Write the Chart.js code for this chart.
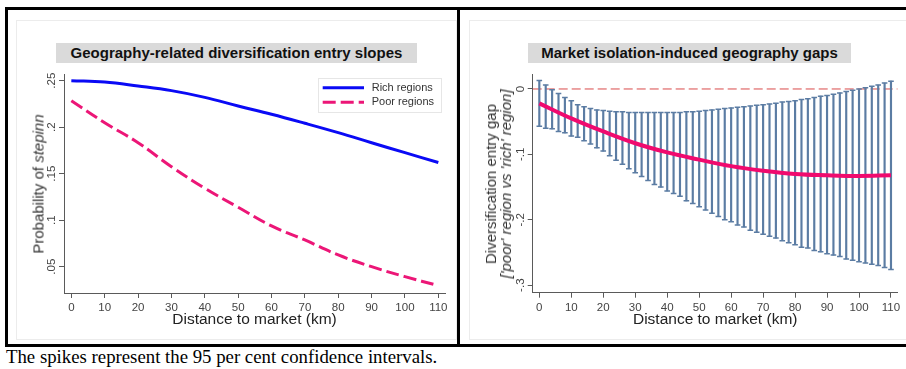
<!DOCTYPE html>
<html>
<head>
<meta charset="utf-8">
<script src="https://cdn.jsdelivr.net/npm/chart.js@4.4.1/dist/chart.umd.min.js"></script>
<style>
  body { margin: 0; background: #fff; width: 906px; height: 369px; overflow: hidden; position: relative; }
  .bar { position: absolute; background: #000; }
  .panel { position: absolute; box-sizing: border-box; border: 1px solid #ececec; background: #fff; }
  canvas { position: absolute; }
  .title { position: absolute; background: #dadada; font: bold 15px 'Liberation Sans', Arial, sans-serif;
           color: #111; text-align: center; line-height: 20px; height: 20px; white-space: nowrap; }
  .ytitle { position: absolute; transform: translate(-50%, -50%) rotate(-90deg); white-space: nowrap;
            font: 15px 'Liberation Sans', Arial, sans-serif; color: #333; text-align: center; line-height: 15px; }
  .caption { position: absolute; left: 6px; top: 348px; font: 18.8px 'Liberation Serif', 'Times New Roman', serif;
             color: #000; line-height: 18.8px; white-space: nowrap; }
</style>
</head>
<body>
<div class="panel" style="left:16px;top:20px;width:441px;height:320px"></div>
<div class="panel" style="left:469px;top:20px;width:445px;height:320px"></div>

<canvas id="chartLeft" width="441" height="320" style="left:16px;top:20px"></canvas>
<canvas id="chartRight" width="437" height="320" style="left:469px;top:20px"></canvas>

<div class="bar" style="left:5px;top:7px;width:901px;height:3px"></div>
<div class="bar" style="left:5px;top:344px;width:901px;height:3px"></div>
<div class="bar" style="left:5px;top:7px;width:3px;height:340px"></div>
<div class="bar" style="left:457px;top:7px;width:3px;height:340px"></div>

<div class="title" style="left:56px;top:43px;width:361px">Geography-related diversification entry slopes</div>
<div class="title" style="left:528px;top:43px;width:323px">Market isolation-induced geography gaps</div>

<div class="ytitle" style="left:37.5px;top:183.5px">Probability of <i>stepinn</i></div>
<div class="ytitle" style="left:497.5px;top:183.5px">Diversification entry gap<br><i>['poor' region vs 'rich' region]</i></div>

<div class="caption">The spikes represent the 95 per cent confidence intervals.</div>

<script>
// left panel: predicted probabilities
const distance = [0, 10, 20, 30, 40, 50, 60, 70, 80, 90, 100, 110];
const richRegions = [0.250, 0.2486, 0.2443, 0.2393, 0.2321, 0.2228, 0.2139, 0.2042, 0.1941, 0.1833, 0.1726, 0.162];
const poorRegions = [0.2285, 0.2048, 0.1833, 0.1575, 0.1343, 0.1139, 0.0938, 0.0787, 0.0626, 0.050, 0.0393, 0.0296];
const leftYTicks = [0.05, 0.1, 0.15, 0.2, 0.25];
const leftYLabels = ['.05', '.1', '.15', '.2', '.25'];

// right panel: gap with 95% spikes every 2 km
const gapDistance = [0, 2, 4, 6, 8, 10, 12, 14, 16, 18, 20, 22, 24, 26, 28, 30, 32, 34, 36, 38,
  40, 42, 44, 46, 48, 50, 52, 54, 56, 58, 60, 62, 64, 66, 68, 70, 72, 74, 76, 78,
  80, 82, 84, 86, 88, 90, 92, 94, 96, 98, 100, 102, 104, 106, 108, 110];
const gapHigh = [0.013, 0.006, -0.001, -0.007, -0.013, -0.018, -0.024, -0.027, -0.030, -0.032,
  -0.033, -0.034, -0.035, -0.035, -0.036, -0.036, -0.036, -0.036, -0.036, -0.036,
  -0.036, -0.036, -0.036, -0.035, -0.035, -0.034, -0.033, -0.032, -0.031, -0.030,
  -0.029, -0.028, -0.027, -0.026, -0.025, -0.024, -0.023, -0.022, -0.020, -0.019,
  -0.018, -0.016, -0.015, -0.013, -0.011, -0.010, -0.008, -0.006, -0.004, -0.002,
  0.000, 0.002, 0.004, 0.006, 0.009, 0.012];
const gapLow = [-0.057, -0.060, -0.061, -0.065, -0.067, -0.072, -0.074, -0.079, -0.084, -0.090,
  -0.095, -0.102, -0.109, -0.115, -0.122, -0.128, -0.134, -0.140, -0.146, -0.150,
  -0.156, -0.160, -0.164, -0.171, -0.175, -0.180, -0.185, -0.190, -0.195, -0.200,
  -0.203, -0.208, -0.211, -0.216, -0.219, -0.222, -0.225, -0.228, -0.232, -0.235,
  -0.238, -0.242, -0.243, -0.247, -0.249, -0.252, -0.254, -0.256, -0.260, -0.262,
  -0.264, -0.266, -0.268, -0.270, -0.273, -0.276];
const gapEstimate = [-0.022, -0.045, -0.065, -0.083, -0.097, -0.108, -0.118, -0.125, -0.130, -0.132, -0.133, -0.132];
const rightYTicks = [-0.3, -0.2, -0.1, 0];
const rightYLabels = ['-.3', '-.2', '-.1', '0'];

Chart.defaults.font.family = "'Liberation Sans', Arial, sans-serif";
Chart.defaults.color = '#444';

const axisGray = '#5a5a5a';
const spikeColor = '#5b7ca3';

function xAxis(min, max, height) {
  return {
    type: 'linear', min: min, max: max, offset: false,
    afterBuildTicks: (s) => { s.ticks = distance.map(v => ({ value: v })); },
    afterFit: (s) => { s.height = height; },
    grid: { drawOnChartArea: false, drawTicks: true, tickLength: 5, color: axisGray, offset: false },
    border: { display: true, color: axisGray, width: 1 },
    ticks: { autoSkip: false, maxRotation: 0, padding: 3, font: { size: 11.5 }, color: '#444',
             callback: (v) => String(v) },
    title: { display: true, text: 'Distance to market (km)', color: '#222',
             font: { size: 15.5 }, padding: { top: 0, bottom: 11 } }
  };
}

function yAxis(min, max, width, tickValues) {
  return {
    type: 'linear', min: min, max: max,
    afterBuildTicks: (s) => { s.ticks = tickValues.map(v => ({ value: v })); },
    afterFit: (s) => { s.width = width; },
    grid: { drawOnChartArea: false, drawTicks: true, tickLength: 5, color: axisGray },
    border: { display: true, color: axisGray, width: 1 },
    ticks: { display: false }
  };
}

// vertical tick labels like the original
function yLabelsPlugin(values, labels) {
  return {
    id: 'yLabels',
    afterDraw(chart) {
      const ctx = chart.ctx;
      const sy = chart.scales.y;
      ctx.save();
      ctx.fillStyle = '#444';
      ctx.font = "11.5px 'Liberation Sans', Arial, sans-serif";
      ctx.textAlign = 'center';
      ctx.textBaseline = 'middle';
      values.forEach((v, i) => {
        ctx.save();
        ctx.translate(chart.chartArea.left - 12, sy.getPixelForValue(v));
        ctx.rotate(-Math.PI / 2);
        ctx.fillText(labels[i], 0, 0);
        ctx.restore();
      });
      ctx.restore();
    }
  };
}

const boxLegend = {
  id: 'boxLegend',
  afterDraw(chart) {
    const ctx = chart.ctx;
    const a = chart.chartArea;
    const w = 124, h = 35;
    const bx = a.right - 3 - w, by = a.top + 4;
    ctx.save();
    ctx.fillStyle = '#fff';
    ctx.fillRect(bx, by, w, h);
    ctx.strokeStyle = '#e6e6e6';
    ctx.lineWidth = 1;
    ctx.strokeRect(bx + 0.5, by + 0.5, w - 1, h - 1);
    ctx.font = "11px 'Liberation Sans', Arial, sans-serif";
    ctx.textBaseline = 'middle';
    chart.data.datasets.forEach((ds, i) => {
      const y = by + 9.7 + i * 14.6;
      ctx.strokeStyle = ds.borderColor;
      ctx.lineWidth = ds.borderWidth;
      ctx.setLineDash(ds.borderDash || []);
      ctx.beginPath();
      ctx.moveTo(bx + 4.7, y);
      ctx.lineTo(bx + 46, y);
      ctx.stroke();
      ctx.setLineDash([]);
      ctx.fillStyle = '#333';
      ctx.fillText(ds.label, bx + 53.7, y);
    });
    ctx.restore();
  }
};

new Chart(document.getElementById('chartLeft'), {
  type: 'line',
  data: {
    datasets: [{
      label: 'Rich regions',
      data: distance.map((d, i) => ({ x: d, y: richRegions[i] })),
      borderColor: '#0a0af5',
      borderWidth: 3,
      pointRadius: 0,
      tension: 0.4
    }, {
      label: 'Poor regions',
      data: distance.map((d, i) => ({ x: d, y: poorRegions[i] })),
      borderColor: '#ec1677',
      borderWidth: 3,
      borderDash: [13, 5],
      pointRadius: 0,
      tension: 0.4
    }]
  },
  options: {
    responsive: false,
    animation: false,
    devicePixelRatio: 1,
    layout: { padding: { top: 54, right: 12, left: 0, bottom: 0 } },
    plugins: { legend: { display: false }, tooltip: { enabled: false } },
    scales: {
      x: xAxis(-2.2, 112, 47),
      y: yAxis(0.0217, 0.2572, 48, leftYTicks)
    }
  },
  plugins: [yLabelsPlugin(leftYTicks, leftYLabels), boxLegend]
});

new Chart(document.getElementById('chartRight'), {
  type: 'line',
  data: {
    datasets: [{
      type: 'line',
      label: 'zero',
      data: [{ x: -2.07, y: 0 }, { x: 112.1, y: 0 }],
      borderColor: '#d94a4a',
      borderWidth: 1,
      borderDash: [9, 4],
      pointRadius: 0,
      order: 4
    }, {
      type: 'bar',
      label: 'CI',
      data: gapDistance.map((d, i) => ({ x: d, y: [gapLow[i], gapHigh[i]] })),
      backgroundColor: spikeColor,
      borderWidth: 0,
      barThickness: 1.5,
      grouped: false,
      order: 3
    }, {
      type: 'scatter',
      label: 'upper',
      data: gapDistance.map((d, i) => ({ x: d, y: gapHigh[i] })),
      pointStyle: 'line',
      pointRadius: 2.8,
      pointBorderWidth: 1.5,
      borderColor: spikeColor,
      order: 2
    }, {
      type: 'scatter',
      label: 'lower',
      data: gapDistance.map((d, i) => ({ x: d, y: gapLow[i] })),
      pointStyle: 'line',
      pointRadius: 2.8,
      pointBorderWidth: 1.5,
      borderColor: spikeColor,
      order: 2
    }, {
      type: 'line',
      label: 'gap',
      data: distance.map((d, i) => ({ x: d, y: gapEstimate[i] })),
      borderColor: '#f00a6e',
      borderWidth: 4,
      pointRadius: 0,
      tension: 0.4,
      order: 1
    }]
  },
  options: {
    responsive: false,
    animation: false,
    devicePixelRatio: 1,
    layout: { padding: { top: 54, right: 8.3, left: 0, bottom: 0 } },
    plugins: { legend: { display: false }, tooltip: { enabled: false } },
    scales: {
      x: xAxis(-2.07, 112.1, 47.3),
      y: yAxis(-0.3115, 0.0229, 63.7, rightYTicks)
    }
  },
  plugins: [yLabelsPlugin(rightYTicks, rightYLabels)]
});
</script>
</body>
</html>
